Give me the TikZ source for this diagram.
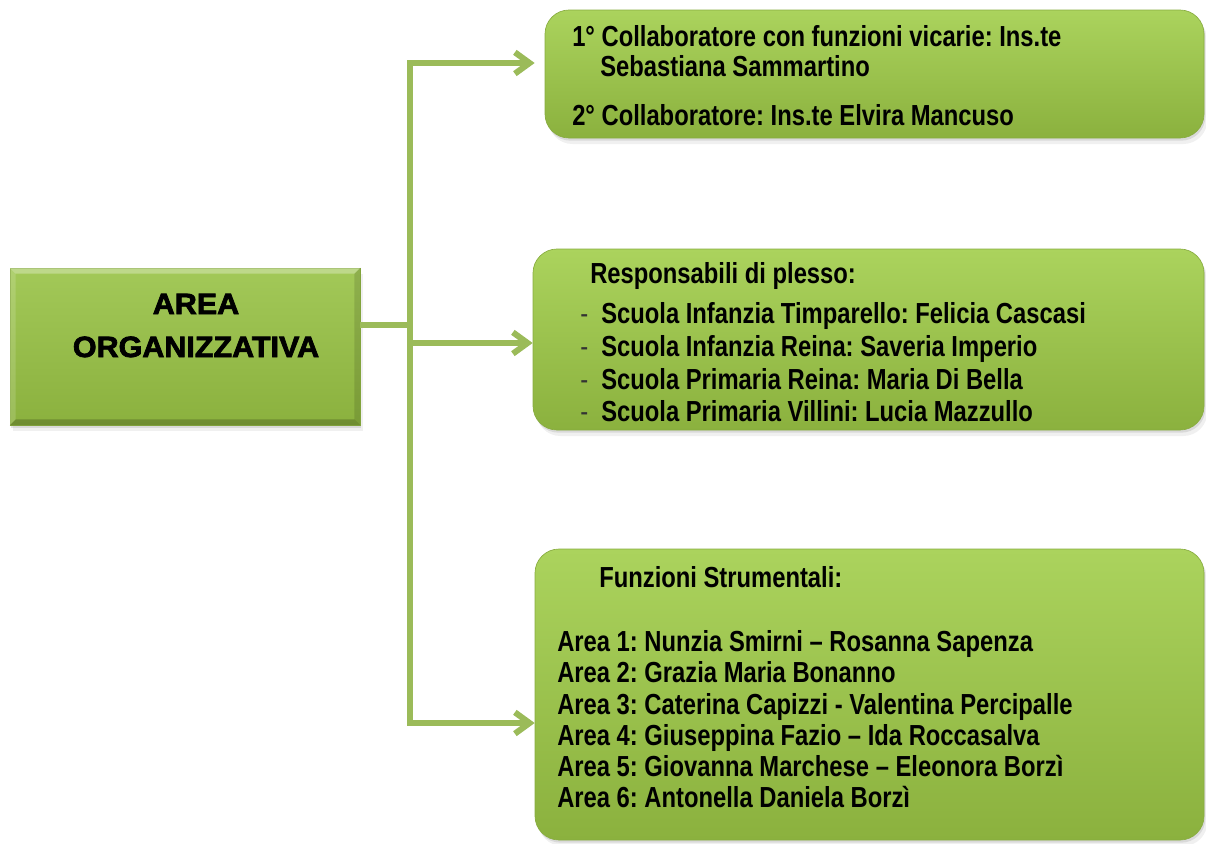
\documentclass[tikz,border=0pt]{standalone}
\usepackage{fontspec}
\usepackage{tikz}
\usetikzlibrary{calc, arrows.meta, shadows}
\newfontfamily\boxfont{Liberation Sans}[FakeStretch=0.82]
\newfontfamily\titlefont{Liberation Sans}[FakeBold=2.5, FakeStretch=1.04]
\definecolor{linkgreen}{HTML}{9BBB59}
\definecolor{boxtop}{HTML}{ABD35D}
\definecolor{boxbottom}{HTML}{8BB13E}
\definecolor{boxedge}{HTML}{88AC40}
\frenchspacing

\begin{document}
\begin{tikzpicture}
        [
          x=0.75pt, y=-0.75pt,
          greenbox/.style={rounded corners=18pt, top color=boxtop, bottom color=boxbottom,
            draw=boxedge, line width=0.5pt,
            drop shadow={shadow xshift=1pt, shadow yshift=-2pt, opacity=0.2},
            drop shadow={shadow xshift=2.5pt, shadow yshift=-4.5pt, opacity=0.12}},
          areabox/.style={top color=boxtop!95!black, bottom color=boxbottom,
            draw=boxedge, line width=0.5pt,
            drop shadow={shadow xshift=1pt, shadow yshift=-2pt, opacity=0.2},
            drop shadow={shadow xshift=2.5pt, shadow yshift=-4.5pt, opacity=0.12}},
          boxline/.style={anchor=base west, inner sep=0pt,
            font=\boxfont\bfseries\fontsize{21.75}{24}\selectfont},
          dashline/.style={anchor=base west, inner sep=0pt, black!80,
            font=\boxfont\fontsize{21.75}{24}\selectfont},
          areatitle/.style={anchor=base, inner sep=0pt,
            font=\titlefont\bfseries\fontsize{22}{32}\selectfont},
          link/.style={linkgreen, line width=4.5pt},
          linkarrow/.style={-{Straight Barb[length=11pt,width=16pt]}}
        ]
        \useasboundingbox (0,0) rectangle (1206,843);
        % boxes
        \node [areabox, minimum width=262.5pt, minimum height=117.75pt] (area) at (185,346.5) {};
        \node [greenbox, minimum width=494.25pt, minimum height=96pt] (collab) at (874.5,74) {};
        \node [greenbox, minimum width=503.25pt, minimum height=135.75pt] (plesso) at (868.5,339.5) {};
        \node [greenbox, minimum width=501.75pt, minimum height=218.25pt] (strum) at (869.5,694.5) {};
        % bevel of the area box
        \fill [white, opacity=0.3] (area.north west) -- (area.north east)
          -- ($(area.north east)+(-6,6)$) -- ($(area.north west)+(6,6)$) -- cycle;
        \fill [white, opacity=0.15] (area.north west) -- ($(area.north west)+(6,6)$)
          -- ($(area.south west)+(6,-6)$) -- (area.south west) -- cycle;
        \fill [black, opacity=0.2] (area.south west) -- (area.south east)
          -- ($(area.south east)+(-6,-6)$) -- ($(area.south west)+(6,-6)$) -- cycle;
        \fill [black, opacity=0.12] (area.north east) -- ($(area.north east)+(-6,6)$)
          -- ($(area.south east)+(-6,-6)$) -- (area.south east) -- cycle;
        % area label
        \node [areatitle] (area1) at (196,314) {AREA};
        \node [areatitle] (area2) at (196,357) {ORGANIZZATIVA};
        % collaboratori
        \node [boxline] (coll1) at (572,46) {1° Collaboratore con funzioni vicarie: Ins.te};
        \node [boxline] (coll2) at (600,76) {Sebastiana Sammartino};
        \node [boxline] (coll3) at (572,125) {2° Collaboratore: Ins.te Elvira Mancuso};
        % responsabili di plesso
        \node [boxline] (plhead) at (590,283) {Responsabili di plesso:};
        \foreach \y/\txt [count=\i] in {323/Scuola Infanzia Timparello: Felicia Cascasi,
            356/Scuola Infanzia Reina: Saveria Imperio,
            389/Scuola Primaria Reina: Maria Di Bella,
            421/Scuola Primaria Villini: Lucia Mazzullo} {
            \node [dashline] (dash\i) at (580,\y) {-};
            \node [boxline] (pl\i) at (601,\y) {\txt};
        }
        % funzioni strumentali
        \node [boxline] (fshead) at (599,587) {Funzioni Strumentali:};
        \foreach \y/\txt [count=\i] in {651/Area 1: Nunzia Smirni – Rosanna Sapenza,
            682/Area 2: Grazia Maria Bonanno,
            714/Area 3: Caterina Capizzi - Valentina Percipalle,
            745/Area 4: Giuseppina Fazio – Ida Roccasalva,
            776/Area 5: Giovanna Marchese – Eleonora Borzì,
            807/Area 6: Antonella Daniela Borzì} {
            \node [boxline] (fs\i) at (557,\y) {\txt};
        }
        % connectors
        \coordinate (stub) at (410,325);
        \coordinate (ttop) at (410,63);
        \coordinate (tmid) at (410,343);
        \coordinate (tbot) at (410,723);
        \draw [link] (stub -| area.east) -- (stub);
        \draw [link, linkarrow, shorten >=7.5pt] (stub) -- (ttop) -- (ttop -| collab.west);
        \draw [link, linkarrow] (tmid) -- (tmid -| plesso.west);
        \draw [link, linkarrow] (stub) -- (tbot) -- (tbot -| strum.west);
\end{tikzpicture}
\end{document}
